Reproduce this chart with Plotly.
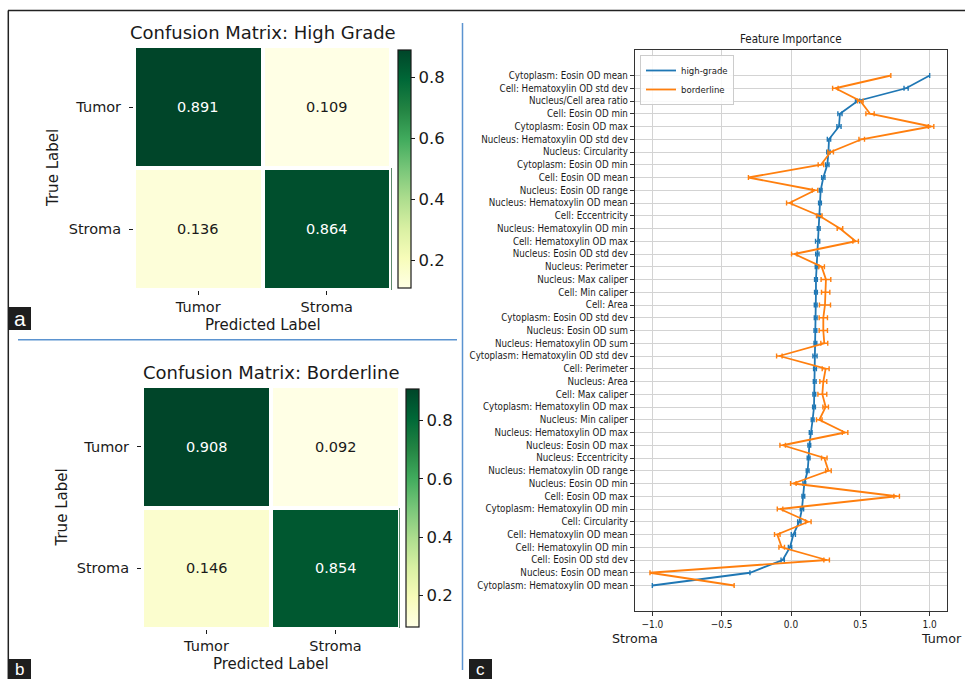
import plotly.graph_objects as go

W, H = 965, 679

# ---- confusion matrices ----
classes = ["Tumor", "Stroma"]
cm_high_grade = [[0.891, 0.109], [0.136, 0.864]]
cm_borderline = [[0.908, 0.092], [0.146, 0.854]]
colorbar_ticks = [0.2, 0.4, 0.6, 0.8]

# ---- feature importance (top to bottom) ----
features = [
    "Cytoplasm: Eosin OD mean", "Cell: Hematoxylin OD std dev", "Nucleus/Cell area ratio",
    "Cell: Eosin OD min", "Cytoplasm: Eosin OD max", "Nucleus: Hematoxylin OD std dev",
    "Nucleus: Circularity", "Cytoplasm: Eosin OD min", "Cell: Eosin OD mean",
    "Nucleus: Eosin OD range", "Nucleus: Hematoxylin OD mean", "Cell: Eccentricity",
    "Nucleus: Hematoxylin OD min", "Cell: Hematoxylin OD max", "Nucleus: Eosin OD std dev",
    "Nucleus: Perimeter", "Nucleus: Max caliper", "Cell: Min caliper", "Cell: Area",
    "Cytoplasm: Eosin OD std dev", "Nucleus: Eosin OD sum", "Nucleus: Hematoxylin OD sum",
    "Cytoplasm: Hematoxylin OD std dev", "Cell: Perimeter", "Nucleus: Area",
    "Cell: Max caliper", "Cytoplasm: Hematoxylin OD max", "Nucleus: Min caliper",
    "Nucleus: Hematoxylin OD max", "Nucleus: Eosin OD max", "Nucleus: Eccentricity",
    "Nucleus: Hematoxylin OD range", "Nucleus: Eosin OD min", "Cell: Eosin OD max",
    "Cytoplasm: Hematoxylin OD min", "Cell: Circularity", "Cell: Hematoxylin OD mean",
    "Cell: Hematoxylin OD min", "Cell: Eosin OD std dev", "Nucleus: Eosin OD mean",
    "Cytoplasm: Hematoxylin OD mean",
]
high_grade_imp = [
    1.0, 0.83, 0.48, 0.353, 0.346, 0.274, 0.27, 0.262, 0.233, 0.214,
    0.209, 0.204, 0.2, 0.192, 0.19, 0.185, 0.18, 0.18, 0.178, 0.178,
    0.176, 0.176, 0.173, 0.173, 0.171, 0.168, 0.166, 0.156, 0.142, 0.132,
    0.127, 0.12, 0.096, 0.089, 0.079, 0.06, 0.017, -0.007, -0.06, -0.296,
    -1.0,
]
borderline_imp = [
    0.72, 0.32, 0.50, 0.57, 1.01, 0.51, 0.286, 0.216, -0.307, 0.173,
    -0.012, 0.204, 0.353, 0.466, 0.024, 0.221, 0.252, 0.25, 0.245, 0.233,
    0.233, 0.24, -0.084, 0.25, 0.233, 0.226, 0.25, 0.204, 0.39, -0.06,
    0.24, 0.27, 0.017, 0.762, -0.079, 0.125, -0.099, -0.067, 0.257, -1.017,
    -0.41,
]
high_grade_err = [
    0.0, 0.015, 0.015, 0.015, 0.015, 0.012, 0.012, 0.012, 0.012, 0.01,
    0.01, 0.01, 0.01, 0.015, 0.012, 0.01, 0.01, 0.01, 0.01, 0.01,
    0.01, 0.01, 0.015, 0.01, 0.01, 0.01, 0.01, 0.01, 0.01, 0.01,
    0.01, 0.01, 0.01, 0.01, 0.012, 0.012, 0.015, 0.012, 0.012, 0.0,
    0.0,
]
borderline_err = [
    0.0, 0.02, 0.02, 0.03, 0.02, 0.02, 0.02, 0.02, 0.0, 0.02,
    0.02, 0.02, 0.02, 0.02, 0.02, 0.02, 0.035, 0.03, 0.04, 0.03,
    0.03, 0.025, 0.02, 0.025, 0.025, 0.032, 0.02, 0.02, 0.02, 0.02,
    0.02, 0.02, 0.02, 0.02, 0.02, 0.02, 0.02, 0.02, 0.02, 0.0,
    0.0,
]
importance_ticks = [-1.0, -0.5, 0.0, 0.5, 1.0]


def px_x(p):
    return p / W


def px_y(p):
    return 1 - p / H


MPL = "DejaVu Sans"
COND = "DejaVu Sans Condensed, Liberation Sans Narrow, DejaVu Sans"
INK = "#1a1a1a"


def label(x, y, text, size, family=MPL, color=INK, angle=0, yanchor="middle"):
    """Centered text placed in pixel coordinates."""
    return dict(x=px_x(x), y=px_y(y), xref="paper", yref="paper", text=text,
                showarrow=False, xanchor="center", yanchor=yanchor, textangle=angle,
                font=dict(family=family, size=size, color=color))


fig = go.Figure()

panels = [
    dict(z=cm_high_grade, title="Confusion Matrix: High Grade", xa="x", ya="y",
         box=(136, 389, 48, 288), cb=(398, 50, 288), art=(391.5, 168, 290)),
    dict(z=cm_borderline, title="Confusion Matrix: Borderline", xa="x2", ya="y2",
         box=(144, 398, 388, 627), cb=(406, 389, 627), art=(399.5, 508, 628)),
]

annotations = []
shapes = []
layout_axes = {}

for i, p in enumerate(panels):
    vals = [v for row in p["z"] for v in row]
    zmin, zmax = min(vals), max(vals)
    x0, x1, y0, y1 = p["box"]
    cbx, cby0, cby1 = p["cb"]
    fig.add_trace(go.Heatmap(
        z=p["z"], x=classes, y=classes, xaxis=p["xa"], yaxis=p["ya"],
        colorscale="YlGn", zmin=zmin, zmax=zmax, xgap=4, ygap=4,
        hoverinfo="skip",
        colorbar=dict(
            x=px_x(cbx), xanchor="left", y=px_y(cby0), yanchor="top",
            len=(cby1 - cby0) / H, lenmode="fraction",
            thickness=13, thicknessmode="pixels", xpad=0, ypad=0,
            outlinewidth=1.2, outlinecolor=INK,
            tickvals=colorbar_ticks, ticktext=[f"{t:.1f}" for t in colorbar_ticks],
            ticks="outside", ticklen=4, tickwidth=1, tickcolor=INK,
            tickfont=dict(family=MPL, size=16.5, color=INK),
        ),
    ))
    # cell values
    for r, row in enumerate(p["z"]):
        for c, v in enumerate(row):
            dark = (v - zmin) / (zmax - zmin) > 0.5
            annotations.append(dict(
                x=classes[c], y=classes[r], xref=p["xa"], yref=p["ya"],
                text=f"{v:.3f}", showarrow=False, xanchor="center", yanchor="middle",
                font=dict(family=MPL, size=14.5, color="white" if dark else INK),
            ))
    suffix = "" if i == 0 else "2"
    layout_axes["xaxis" + suffix] = dict(
        domain=[px_x(x0 - 2), px_x(x1 + 2)], anchor=p["ya"],
        showgrid=False, zeroline=False, ticks="outside", ticklen=4,
        tickcolor=INK, tickfont=dict(family=MPL, size=14.5, color=INK),
        showline=False, fixedrange=True, ticklabelstandoff=0,
    )
    layout_axes["yaxis" + suffix] = dict(
        domain=[px_y(y1 + 2), px_y(y0 - 2)], anchor=p["xa"],
        autorange="reversed", showgrid=False, zeroline=False,
        ticks="outside", ticklen=4, tickcolor=INK,
        tickfont=dict(family=MPL, size=14.5, color=INK),
        showline=False, fixedrange=True, ticklabelstandoff=5,
    )
    cx = (x0 + x1) / 2
    annotations.append(label(cx, y0 - 16, p["title"], 18))
    annotations.append(label(cx, y1 + 37, "Predicted Label", 15))
    annotations.append(label(x0 - 83, (y0 + y1) / 2, "True Label", 15, angle=-90))
    ax, ay0, ay1 = p["art"]
    shapes.append(dict(type="line", xref="paper", yref="paper",
                       x0=px_x(ax), x1=px_x(ax), y0=px_y(ay0), y1=px_y(ay1),
                       line=dict(color="#5e8a6c", width=1)))

# ---- feature importance lines ----
fig.add_trace(go.Scatter(
    x=high_grade_imp, y=features, mode="lines", name="high-grade",
    xaxis="x3", yaxis="y3", line=dict(color="#1f77b4", width=1.8),
    error_x=dict(type="data", array=high_grade_err, color="#1f77b4",
                 thickness=1.4, width=2.5),
    hoverinfo="skip",
))
fig.add_trace(go.Scatter(
    x=borderline_imp, y=features, mode="lines", name="borderline",
    xaxis="x3", yaxis="y3", line=dict(color="#ff7f0e", width=1.8),
    error_x=dict(type="data", array=borderline_err, color="#ff7f0e",
                 thickness=1.4, width=2.5),
    hoverinfo="skip",
))

layout_axes["xaxis3"] = dict(
    domain=[px_x(635), px_x(947)], anchor="y3", range=[-1.125, 1.125],
    tickvals=importance_ticks, ticktext=["\u22121.0", "\u22120.5", "0.0", "0.5", "1.0"],
    showgrid=True, gridcolor="#d3d3d3", gridwidth=1.3, zeroline=False,
    showline=True, mirror=True, linecolor="#333", linewidth=1.3,
    ticks="outside", ticklen=4, tickcolor="#333",
    tickfont=dict(family=COND, size=10, color=INK), fixedrange=True,
)
layout_axes["yaxis3"] = dict(
    domain=[px_y(611), px_y(50)], anchor="x3", range=[len(features) + 1, -2],
    type="category", tickmode="array", tickvals=features, ticktext=features,
    showgrid=True, gridcolor="#d3d3d3", gridwidth=1.3, zeroline=False,
    showline=True, mirror=True, linecolor="#333", linewidth=1.3,
    ticks="outside", ticklen=4, tickcolor="#333",
    tickfont=dict(family=COND, size=9.7, color=INK), fixedrange=True,
)

annotations += [
    label(791, 39, "Feature Importance", 11.5, family=COND),
    label(635, 638, "Stroma", 12.7),
    label(941, 638, "Tumor", 12.7),
]

# ---- panel frame, separators and panel letters ----
shapes += [
    dict(type="line", xref="paper", yref="paper", x0=px_x(8), x1=1,
         y0=px_y(10.5), y1=px_y(10.5), line=dict(color="#222", width=1.5)),
    dict(type="line", xref="paper", yref="paper", x0=px_x(8.3), x1=px_x(8.3),
         y0=px_y(10.5), y1=0, line=dict(color="#222", width=1.5)),
    dict(type="line", xref="paper", yref="paper", x0=px_x(18), x1=px_x(457),
         y0=px_y(339.8), y1=px_y(339.8), line=dict(color="#5b93d0", width=1.5)),
    dict(type="line", xref="paper", yref="paper", x0=px_x(462.5), x1=px_x(462.5),
         y0=px_y(23), y1=px_y(670), line=dict(color="#5b93d0", width=1.5)),
]
for letter, (bx0, bx1, by0, by1), size in [("a", (8, 31, 307, 330), 21),
                                           ("b", (8, 31, 659, 679), 17),
                                           ("c", (469, 492, 659, 679), 17)]:
    shapes.append(dict(type="rect", xref="paper", yref="paper",
                       x0=px_x(bx0), x1=px_x(bx1), y0=px_y(by1), y1=px_y(by0),
                       fillcolor="#1e1e1e", line=dict(width=0)))
    annotations.append(label((bx0 + bx1) / 2, (by0 + by1) / 2, letter, size,
                             family="Liberation Sans", color="white"))

fig.update_layout(
    width=W, height=H, autosize=False,
    margin=dict(l=0, r=0, t=0, b=0),
    paper_bgcolor="white", plot_bgcolor="white",
    showlegend=True,
    legend=dict(x=px_x(640), y=px_y(55), xanchor="left", yanchor="top",
                bgcolor="rgba(255,255,255,0.85)", bordercolor="#cccccc", borderwidth=1,
                font=dict(family=COND, size=9.5, color=INK),
                itemwidth=30, tracegroupgap=0),
    annotations=annotations, shapes=shapes,
    **layout_axes,
)

fig.write_html("out.html")
